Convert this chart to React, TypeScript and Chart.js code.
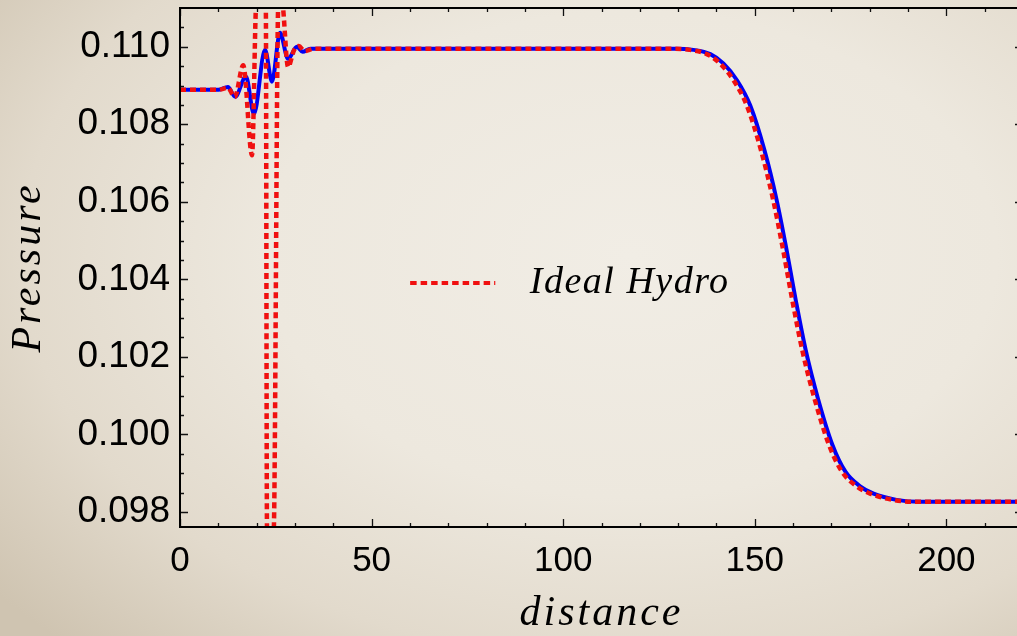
import React, { useEffect, useRef } from "react";
import { Chart, registerables } from "chart.js";

Chart.register(...registerables);

// ---- data ----
const idealDistance = [
  0, 10, 12.5, 14.3, 16.5, 18.8, 19.8, 20.8, 21.6, 22.4, 22.7, 23.5, 24.5, 25.6, 26.2, 26.9,
  28.2, 29.8, 31.0, 32.5, 35, 60, 100, 128, 133, 137.5, 140.9, 144.5, 147.9, 151.6, 154.8,
  157.4, 158.6, 159.8, 162.4, 165.6, 169.4, 172.8, 176.6, 180.1, 186, 192, 205, 220,
];
const idealPressure = [
  0.10889, 0.10889, 0.10894, 0.1087, 0.10952, 0.1072, 0.111, 0.1118, 0.1116, 0.111, 0.0976,
  0.0965, 0.0976, 0.111, 0.1116, 0.111, 0.10948, 0.10992, 0.11002, 0.10989, 0.10995, 0.10995,
  0.10995, 0.10995, 0.10992, 0.10981, 0.10957, 0.10913, 0.10849, 0.10734, 0.10605, 0.10476,
  0.10411, 0.10346, 0.10217, 0.10092, 0.09972, 0.09903, 0.09866, 0.09847, 0.09831, 0.09826,
  0.09826, 0.09826,
];

const viscousDistance = [
  0, 10, 12.5, 14.4, 17.2, 19.3, 22.2, 24.0, 26.1, 28.2, 30.5, 32.0, 34, 60, 100, 129, 134,
  138.4, 141.8, 145.4, 148.8, 152.5, 155.7, 158.3, 159.5, 160.7, 163.3, 166.5, 170.3, 173.7,
  177.5, 181, 187, 193, 205, 220,
];
const viscousPressure = [
  0.10889, 0.10889, 0.10896, 0.10871, 0.10923, 0.10827, 0.10992, 0.1091, 0.11036, 0.10969,
  0.11, 0.10987, 0.10995, 0.10995, 0.10995, 0.10995, 0.10992, 0.10981, 0.10957, 0.10913,
  0.10849, 0.10734, 0.10605, 0.10476, 0.10411, 0.10346, 0.10217, 0.10092, 0.09972, 0.09903,
  0.09866, 0.09847, 0.09831, 0.09826, 0.09826, 0.09826,
];

const xMajorTicks = [0, 50, 100, 150, 200];
const xMinorTicks = [10, 20, 30, 40, 60, 70, 80, 90, 110, 120, 130, 140, 160, 170, 180, 190, 210];
const yMajorTicks = [0.098, 0.1, 0.102, 0.104, 0.106, 0.108, 0.11];
const yMinorTicks = [
  0.0985, 0.099, 0.0995, 0.1005, 0.101, 0.1015, 0.1025, 0.103, 0.1035, 0.1045, 0.105, 0.1055,
  0.1065, 0.107, 0.1075, 0.1085, 0.109, 0.1095, 0.1105,
];

const xRange = [0, 220];
const yRange = [0.09761, 0.111];

const legendLabel = "Ideal Hydro";
const viscousLabel = "Viscous Hydro";
const xTitle = "distance";
const yTitle = "Pressure";

const RED = "#F01010";
const BLUE = "#0000F5";

const decorPlugin = {
  id: "decor",
  afterDatasetsDraw(chart: any) {
    const { ctx, chartArea: a, scales } = chart;
    const xs = scales.x;
    const ys = scales.y;
    ctx.save();
    ctx.strokeStyle = "#111";
    ctx.lineWidth = 1.3;
    const vt = (vals: number[], len: number) => {
      vals.forEach((v) => {
        const px = Math.round(xs.getPixelForValue(v)) + 0.5;
        ctx.beginPath();
        ctx.moveTo(px, a.bottom);
        ctx.lineTo(px, a.bottom - len);
        ctx.moveTo(px, a.top);
        ctx.lineTo(px, a.top + len);
        ctx.stroke();
      });
    };
    const ht = (vals: number[], len: number) => {
      vals.forEach((v) => {
        const py = Math.round(ys.getPixelForValue(v)) + 0.5;
        ctx.beginPath();
        ctx.moveTo(a.left, py);
        ctx.lineTo(a.left + len, py);
        ctx.moveTo(a.right, py);
        ctx.lineTo(a.right - len, py);
        ctx.stroke();
      });
    };
    vt(xMajorTicks, 8);
    vt(xMinorTicks, 4);
    ht(yMajorTicks, 8);
    ht(yMinorTicks, 4);
    ctx.strokeStyle = "#000";
    ctx.lineWidth = 2;
    ctx.strokeRect(a.left, a.top, a.right - a.left, a.bottom - a.top);
    ctx.restore();
  },
  afterDraw(chart: any) {
    const { ctx, chartArea: a } = chart;
    const w = a.right - a.left;
    const h = a.bottom - a.top;
    ctx.save();
    const ly = a.top + 0.53 * h;
    ctx.strokeStyle = RED;
    ctx.lineWidth = 4;
    ctx.setLineDash([6.5, 4]);
    ctx.beginPath();
    ctx.moveTo(a.left + 0.273 * w, ly);
    ctx.lineTo(a.left + 0.374 * w, ly);
    ctx.stroke();
    ctx.setLineDash([]);
    ctx.fillStyle = "#000";
    ctx.font = "italic 38px 'Liberation Serif'";
    (ctx as any).letterSpacing = "1.5px";
    ctx.textAlign = "left";
    ctx.textBaseline = "middle";
    ctx.fillText(legendLabel, a.left + 0.415 * w, ly);
    (ctx as any).letterSpacing = "3px";
    ctx.font = "italic 42px 'Liberation Serif'";
    ctx.textAlign = "center";
    ctx.textBaseline = "middle";
    ctx.fillText(xTitle, (a.left + a.right) / 2, 614);
    ctx.translate(29, (a.top + a.bottom) / 2);
    ctx.rotate(-Math.PI / 2);
    ctx.fillText(yTitle, 0, 0);
    ctx.restore();
  },
};

export default function App() {
  const ref = useRef<HTMLCanvasElement | null>(null);

  useEffect(() => {
    if (!ref.current) return;
    document.body.style.margin = "0";
    const chart = new Chart(ref.current, {
      type: "line",
      data: {
        datasets: [
          {
            label: legendLabel,
            data: idealDistance.map((d, i) => ({ x: d, y: idealPressure[i] })),
            borderColor: RED,
            borderWidth: 4.5,
            borderDash: [6, 4],
            borderCapStyle: "butt",
            pointRadius: 0,
            tension: 0.4,
            cubicInterpolationMode: "monotone",
            fill: false,
          },
          {
            label: viscousLabel,
            data: viscousDistance.map((d, i) => ({ x: d, y: viscousPressure[i] })),
            borderColor: BLUE,
            borderWidth: 4,
            pointRadius: 0,
            tension: 0.4,
            cubicInterpolationMode: "monotone",
            fill: false,
          },
        ],
      },
      options: {
        animation: false,
        responsive: false,
        devicePixelRatio: 1,
        layout: { padding: { top: 8, right: 1, left: 0, bottom: 0 } },
        plugins: { legend: { display: false }, tooltip: { enabled: false } },
        scales: {
          x: {
            type: "linear",
            min: xRange[0],
            max: xRange[1],
            grid: { display: false, drawTicks: false },
            border: { display: false },
            ticks: {
              color: "#000",
              font: { family: "'Liberation Sans'", size: 35 },
              padding: 13,
              maxRotation: 0,
              autoSkip: false,
              callback: (v: any) => String(v),
            },
            afterBuildTicks: (s: any) => {
              s.ticks = xMajorTicks.map((v) => ({ value: v }));
            },
            afterFit: (s: any) => {
              s.height = 109;
              s.paddingLeft = 0;
              s.paddingRight = 0;
            },
          },
          y: {
            type: "linear",
            min: yRange[0],
            max: yRange[1],
            grid: { display: false, drawTicks: false },
            border: { display: false },
            ticks: {
              color: "#000",
              font: { family: "'Liberation Sans'", size: 37 },
              padding: 10,
              autoSkip: false,
              callback: (v: any) => Number(v).toFixed(3),
            },
            afterBuildTicks: (s: any) => {
              s.ticks = yMajorTicks.map((v) => ({ value: v }));
            },
            afterFit: (s: any) => {
              s.width = 180;
              s.paddingTop = 0;
              s.paddingBottom = 0;
            },
          },
        },
      } as any,
      plugins: [decorPlugin],
    });
    return () => chart.destroy();
  }, []);

  return (
    <div
      style={{
        position: "absolute",
        left: 0,
        top: 0,
        width: 1017,
        height: 636,
        overflow: "hidden",
        background:
          "radial-gradient(ellipse 80% 85% at 62% 40%, #F1EDE5 0%, #EDE8DE 45%, #E2DACC 75%, #CFC4B1 100%)",
      }}
    >
      <canvas ref={ref} width={1024} height={636} style={{ display: "block", width: 1024, height: 636 }} />
    </div>
  );
}
